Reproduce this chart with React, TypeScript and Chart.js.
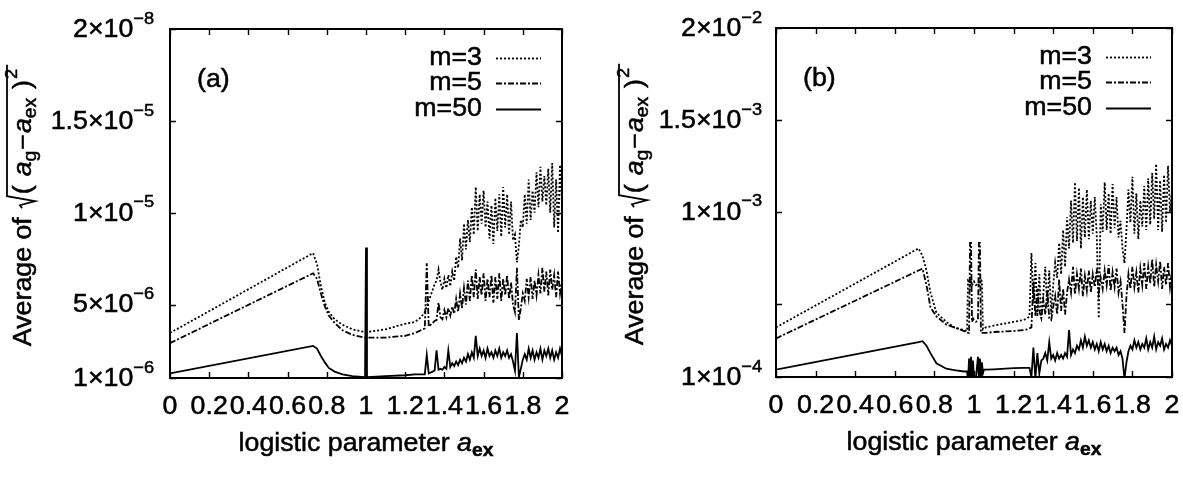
import React, { useEffect, useRef } from "react";
import { Chart, registerables } from "chart.js";
Chart.register(...registerables);

const FONT = '"Liberation Sans", Arial, Helvetica, sans-serif';
const SX = 1.07; // horizontal glyph stretch to mimic the printed Helvetica
const TEXT_STROKE = 0.5;

// ---------- shared axis data ----------
const xTickVals = [0, 0.2, 0.4, 0.6, 0.8, 1, 1.2, 1.4, 1.6, 1.8, 2];
const xTickLabels = ["0", "0.2", "0.4", "0.6", "0.8", "1", "1.2", "1.4", "1.6", "1.8", "2"];
const yTickVals = [1, 5, 10, 15, 20];
const legendLabels = ["m=3", "m=5", "m=50"];

// ---------- panel (a): values in units of 1e-6 ----------
const yTickBaseA = ["1×10", "5×10", "1×10", "1.5×10", "2×10"];
const yTickExpA = ["−6", "−6", "−5", "−5", "−8"];

const xA = [
  0, 0.73, 0.75, 0.77, 0.79, 0.81, 0.84, 0.88, 0.93, 0.995, 1.0, 1.005, 1.1, 1.2, 1.25, 1.28,
  1.30, 1.31, 1.32, 1.33, 1.34, 1.35, 1.36, 1.37, 1.38, 1.39,
  1.40, 1.41, 1.42, 1.43, 1.44, 1.45, 1.46, 1.47, 1.48, 1.49,
  1.50, 1.51, 1.52, 1.53, 1.54, 1.55, 1.56, 1.57, 1.58, 1.59,
  1.60, 1.61, 1.62, 1.63, 1.64, 1.65, 1.66, 1.67, 1.68, 1.69,
  1.70, 1.71, 1.72, 1.73, 1.74, 1.75, 1.76, 1.77, 1.78, 1.79,
  1.80, 1.81, 1.82, 1.83, 1.84, 1.85, 1.86, 1.87, 1.88, 1.89,
  1.90, 1.91, 1.92, 1.93, 1.94, 1.95, 1.96, 1.97, 1.98, 1.99,
  2.00,
];
const m3A = [
  3.45, 7.8, 7.2, 6.0, 5.1, 4.6, 4.2, 3.9, 3.65, 3.5, 3.5, 3.5, 3.65, 3.95, 4.05, 4.3,
  4.6, 4.9, 5.2, 5.5, 5.8, 6.1, 6.3, 6.9, 6.2, 5.8,
  6.4, 5.9, 6.6, 6.0, 6.8, 6.3, 7.6, 7.0, 8.6, 7.4,
  9.4, 8.0, 9.6, 8.4, 10.3, 8.8, 11.4, 9.0, 11.0, 9.4,
  11.2, 9.2, 10.6, 8.6, 10.4, 8.3, 10.8, 9.0, 11.0, 8.7,
  11.4, 9.2, 11.0, 8.8, 10.6, 8.5, 8.8, 7.3, 8.2, 9.6,
  9.2, 11.0, 9.4, 11.8, 9.6, 11.2, 10.0, 12.2, 10.3, 12.5,
  10.6, 12.0, 10.4, 12.4, 10.0, 12.7, 9.2, 11.8, 8.9, 12.6,
  10.4,
];
const m5A = [
  2.9, 6.7, 6.4, 5.6, 4.9, 4.4, 4.0, 3.6, 3.35, 3.2, 3.2, 3.2, 3.2, 3.3, 3.45, 3.6,
  3.7, 7.25, 3.8, 3.9, 4.0, 4.1, 4.15, 5.1, 4.3, 4.2,
  4.7, 4.3, 4.8, 4.4, 4.9, 4.5, 5.3, 4.6, 5.6, 4.8,
  5.9, 5.0, 6.3, 5.2, 6.6, 5.4, 6.9, 5.3, 6.5, 5.5,
  6.7, 5.2, 6.4, 5.4, 6.6, 5.1, 6.5, 5.3, 6.7, 5.2,
  6.4, 5.5, 6.6, 5.3, 6.2, 5.0, 4.6, 7.0, 4.15, 4.8,
  5.6, 5.2, 6.4, 5.4, 6.5, 5.3, 6.3, 5.5, 6.6, 5.6,
  7.0, 5.7, 6.8, 5.5, 6.9, 5.8, 6.6, 5.4, 6.8, 5.6,
  6.3,
];
const m50A = [
  1.25, 2.75, 2.6, 2.2, 1.85, 1.55, 1.35, 1.2, 1.1, 1.05, 8.1, 1.05, 1.1, 1.15, 1.2, 1.2,
  1.2, 2.25, 1.25, 1.3, 1.35, 1.4, 2.5, 1.45, 1.5, 1.45,
  1.6, 1.5, 2.5, 1.6, 1.8, 1.65, 1.9, 1.7, 2.0, 1.8,
  2.1, 1.9, 2.3, 2.0, 2.4, 2.1, 3.3, 2.2, 2.6, 2.2,
  2.5, 2.1, 2.6, 2.2, 2.4, 2.1, 2.5, 2.2, 2.6, 2.1,
  2.4, 2.2, 2.5, 2.1, 2.3, 1.9, 1.4, 3.45, 1.05, 1.5,
  2.0, 2.3, 2.0, 2.6, 2.1, 2.5, 2.0, 2.4, 2.1, 2.6,
  2.0, 2.5, 2.2, 2.6, 2.1, 2.5, 2.0, 2.4, 2.1, 2.6,
  2.2,
];

// ---------- panel (b): values in units of 1e-4 ----------
const yTickBaseB = ["1×10", "", "1×10", "1.5×10", "2×10"];
const yTickExpB = ["−4", "", "−3", "−3", "−2"];

const xB = [
  0, 0.72, 0.74, 0.76, 0.78, 0.81, 0.86, 0.9, 0.95,
  0.965, 0.97, 0.975, 0.98, 0.985, 0.99, 0.995, 1.0, 1.01, 1.02, 1.025, 1.03, 1.035, 1.04, 1.045, 1.05,
  1.06, 1.1, 1.2, 1.25, 1.27,
  1.28, 1.29,
  1.30, 1.31, 1.32, 1.33, 1.34, 1.35, 1.36, 1.37, 1.38, 1.39,
  1.40, 1.41, 1.42, 1.43, 1.44, 1.45, 1.46, 1.47, 1.48, 1.49,
  1.50, 1.51, 1.52, 1.53, 1.54, 1.55, 1.56, 1.57, 1.58, 1.59,
  1.60, 1.61, 1.62, 1.63, 1.64, 1.65, 1.66, 1.67, 1.68, 1.69,
  1.70, 1.71, 1.72, 1.73, 1.74, 1.75, 1.76, 1.77, 1.78, 1.79,
  1.80, 1.81, 1.82, 1.83, 1.84, 1.85, 1.86, 1.87, 1.88, 1.89,
  1.90, 1.91, 1.92, 1.93, 1.94, 1.95, 1.96, 1.97, 1.98, 1.99,
  2.00,
];
const m3B = [
  3.7, 8.0, 7.6, 6.8, 5.6, 4.5, 4.0, 3.7, 3.55,
  3.5, 6.3, 6.3, 6.0, 6.2, 6.0, 6.1, 6.2, 6.0, 6.1, 6.0, 6.3, 6.3, 6.2, 3.6, 3.65,
  3.7, 3.8, 4.0, 4.1, 4.2,
  4.3, 7.75,
  5.0, 7.2, 4.3, 6.6, 4.2, 5.5, 7.0, 4.8, 6.8, 4.4,
  6.0, 7.2, 6.4, 8.3, 6.6, 9.0, 7.0, 9.7, 8.0, 10.6,
  8.3, 11.6, 8.4, 11.3, 8.0, 10.8, 8.6, 11.2, 8.5, 10.6,
  8.8, 10.8, 8.7, 4.2, 10.4, 8.9, 11.6, 9.0, 11.0, 8.8,
  11.5, 9.1, 10.8, 8.6, 9.5, 8.0, 7.2, 9.0, 11.2, 9.4,
  11.9, 8.8, 11.0, 8.5, 10.6, 9.2, 11.4, 9.0, 11.8, 9.3,
  12.1, 9.6, 12.6, 9.0, 11.7, 8.9, 12.0, 9.4, 12.5, 10.0,
  11.2,
];
const m5B = [
  3.1, 6.8, 6.9, 6.0, 4.8, 4.3, 3.85, 3.7, 3.5,
  3.45, 3.4, 3.4, 8.3, 8.3, 4.0, 4.2, 4.1, 4.0, 4.1, 8.3, 8.3, 3.4, 3.4, 3.4, 3.4,
  3.4, 3.45, 3.5, 3.55, 3.6,
  3.65, 3.7,
  6.2, 4.3, 5.8, 4.6, 4.2, 5.2, 4.4, 5.7, 4.2, 4.1,
  4.8, 5.4, 4.4, 6.3, 4.6, 5.8, 4.4, 5.6, 6.3, 5.6,
  7.0, 5.5, 6.6, 5.8, 6.9, 5.4, 6.5, 5.7, 6.8, 5.6,
  6.6, 5.9, 6.9, 5.6, 6.4, 5.8, 6.8, 6.0, 7.1, 5.7,
  6.7, 5.9, 6.9, 5.6, 6.2, 5.0, 3.4, 5.4, 6.6, 5.8,
  7.0, 5.9, 6.7, 5.6, 6.9, 6.0, 7.2, 5.8, 7.0, 6.1,
  7.4, 5.9, 7.1, 6.2, 7.3, 5.8, 7.0, 6.0, 7.2, 5.9,
  6.8,
];
const m50B = [
  1.4, 2.9, 2.95, 2.7, 2.3, 1.75, 1.45, 1.38, 1.3,
  1.3, 0.8, 2.0, 1.0, 2.1, 0.8, 1.9, 0.8, 1.0, 2.1, 0.8, 2.0, 0.9, 1.8, 1.2, 1.4,
  1.4, 1.42, 1.48, 1.5, 1.5,
  1.5, 1.0,
  2.6, 0.9, 2.3, 1.2, 1.9, 2.0, 2.3, 1.9, 2.9, 2.0,
  2.2, 1.9, 2.3, 2.0, 2.2, 2.0, 2.3, 2.1, 3.55, 2.2,
  2.5, 2.3, 2.7, 2.5, 3.0, 2.6, 3.2, 2.7, 3.0, 2.6,
  2.9, 2.5, 2.8, 2.4, 2.9, 2.5, 2.8, 2.4, 2.7, 2.3,
  2.6, 2.4, 2.6, 2.2, 2.4, 2.0, 0.9, 1.8, 2.4, 2.7,
  2.5, 3.0, 2.6, 2.9, 2.5, 2.8, 2.6, 3.1, 2.5, 2.9,
  2.6, 3.2, 2.5, 2.9, 2.7, 3.1, 2.5, 2.8, 2.6, 3.0,
  2.7,
];

// ---------- styles ----------
const DASH_M3 = [2, 2];
const DASH_M5 = [6, 2, 2, 2];
const DASHES = [DASH_M3, DASH_M5, []];
const LINE_W = 1.8;

function pairs(xs: number[], ys: number[]) {
  const n = Math.min(xs.length, ys.length);
  const out: { x: number; y: number }[] = [];
  for (let i = 0; i < n; i++) out.push({ x: xs[i], y: ys[i] });
  return out;
}

// draw text with slight horizontal stretch and thickening
function txt(
  ctx: CanvasRenderingContext2D,
  s: string,
  x: number,
  y: number,
  font: string,
  align: CanvasTextAlign,
  baseline: CanvasTextBaseline = "middle"
) {
  ctx.save();
  ctx.translate(x, y);
  ctx.scale(SX, 1);
  ctx.font = font;
  ctx.textAlign = align;
  ctx.textBaseline = baseline;
  ctx.setLineDash([]);
  ctx.lineWidth = TEXT_STROKE;
  ctx.fillText(s, 0, 0);
  ctx.strokeText(s, 0, 0);
  ctx.restore();
}
function tw(ctx: CanvasRenderingContext2D, s: string, font: string) {
  ctx.font = font;
  return ctx.measureText(s).width * SX;
}

function drawYTitle(ctx: CanvasRenderingContext2D, bx: number, cy: number) {
  const big = 25;
  const fN = `${big}px ${FONT}`;
  const fI = `italic ${big}px ${FONT}`;
  const fS = `18px ${FONT}`;
  const fSup = `17px ${FONT}`;
  type P = { t?: string; f?: string; dy?: number; after?: number; rad?: number };
  const parts: P[] = [
    { t: "Average of", f: fN, dy: 0, after: 8 },
    { rad: 15 },
    { t: "(", f: fN, dy: 0, after: 9 },
    { t: "a", f: fI, dy: 0, after: 0 },
    { t: "g", f: fS, dy: 5, after: 1 },
    { t: "−", f: fN, dy: 0, after: 1 },
    { t: "a", f: fI, dy: 0, after: 0 },
    { t: "ex", f: fS, dy: 5, after: 9 },
    { t: ")", f: fN, dy: 0, after: 1 },
    { t: "2", f: fSup, dy: -14, after: 4 },
  ];
  ctx.save();
  ctx.translate(bx, cy);
  ctx.rotate(-Math.PI / 2);
  const widths = parts.map((p) => (p.rad ? p.rad : tw(ctx, p.t!, p.f!) + (p.after || 0)));
  const total = widths.reduce((a, b) => a + b, 0);
  let x = -total / 2;
  let radStart = 0;
  parts.forEach((p, i) => {
    if (p.rad) radStart = x;
    else txt(ctx, p.t!, x, p.dy || 0, p.f!, "left", "alphabetic");
    x += widths[i];
  });
  ctx.lineWidth = 1.8;
  ctx.setLineDash([]);
  ctx.beginPath();
  ctx.moveTo(radStart + 1, -9);
  ctx.lineTo(radStart + 4, -11);
  ctx.lineTo(radStart + 8, 4);
  ctx.lineTo(radStart + 13, -24);
  ctx.lineTo(x, -24);
  ctx.stroke();
  ctx.restore();
}

function drawXTitle(ctx: CanvasRenderingContext2D, cx: number, base: number) {
  const parts = [
    { t: "logistic parameter ", f: `25px ${FONT}`, dy: 0 },
    { t: "a", f: `italic 25px ${FONT}`, dy: 0 },
    { t: "ex", f: `bold 18px ${FONT}`, dy: 5 },
  ];
  const widths = parts.map((p) => tw(ctx, p.t, p.f));
  let x = cx - widths.reduce((a, b) => a + b, 0) / 2;
  parts.forEach((p, i) => {
    txt(ctx, p.t, x, base + p.dy, p.f, "left", "alphabetic");
    x += widths[i];
  });
}

type PanelCfg = {
  tag: string;
  yBase: string[];
  yExp: string[];
  yTitleX: number;
  labelGap: number;
};

function decorPlugin(cfg: PanelCfg) {
  return {
    id: "decor",
    afterDraw(chart: any) {
      const ctx: CanvasRenderingContext2D = chart.ctx;
      const { left, right, top, bottom } = chart.chartArea;
      const xs = chart.scales.x;
      const ys = chart.scales.y;
      ctx.save();
      ctx.strokeStyle = "#000";
      ctx.fillStyle = "#000";
      ctx.setLineDash([]);
      ctx.lineWidth = 2;
      ctx.strokeRect(left, top, right - left, bottom - top);
      ctx.lineWidth = 1.4;
      ctx.beginPath();
      xTickVals.forEach((v) => {
        const px = Math.round(xs.getPixelForValue(v)) + 0.5;
        ctx.moveTo(px, bottom);
        ctx.lineTo(px, bottom - 6);
        ctx.moveTo(px, top);
        ctx.lineTo(px, top + 6);
      });
      yTickVals.forEach((v) => {
        const py = Math.round(ys.getPixelForValue(v)) + 0.5;
        ctx.moveTo(left, py);
        ctx.lineTo(left + 6, py);
        ctx.moveTo(right, py);
        ctx.lineTo(right - 6, py);
      });
      ctx.stroke();

      const f25 = `25px ${FONT}`;
      const f17 = `17px ${FONT}`;

      // x tick labels
      xTickVals.forEach((v, i) => {
        txt(ctx, xTickLabels[i], xs.getPixelForValue(v), bottom + 29, f25, "center");
      });

      // y tick labels with superscript exponents
      const rightEdge = left - cfg.labelGap;
      yTickVals.forEach((v, i) => {
        const base = cfg.yBase[i];
        if (!base) return;
        const py = ys.getPixelForValue(v);
        const ew = tw(ctx, cfg.yExp[i], f17);
        txt(ctx, cfg.yExp[i], rightEdge - ew, py - 10, f17, "left");
        txt(ctx, base, rightEdge - ew, py + 1, f25, "right");
      });

      // panel tag
      txt(ctx, cfg.tag, left + 27, top + 51, f25, "left");

      // legend
      const rows = [top + 29, top + 54, top + 80];
      legendLabels.forEach((lab, i) => {
        txt(ctx, lab, right - 80, rows[i], f25, "right");
        ctx.lineWidth = LINE_W;
        ctx.setLineDash(DASHES[i]);
        ctx.beginPath();
        ctx.moveTo(right - 66, rows[i] + 0.5);
        ctx.lineTo(right - 21, rows[i] + 0.5);
        ctx.stroke();
      });
      ctx.setLineDash([]);

      drawXTitle(ctx, (left + right) / 2, bottom + 73);
      drawYTitle(ctx, cfg.yTitleX, (top + bottom) / 2 + 2);
      ctx.restore();
    },
  };
}

function makeChart(
  canvas: HTMLCanvasElement,
  xs: number[],
  series: number[][],
  pad: { left: number; right: number; top: number; bottom: number },
  cfg: PanelCfg
) {
  return new Chart(canvas, {
    type: "line",
    data: {
      datasets: series.map((ys, i) => ({
        label: legendLabels[i],
        data: pairs(xs, ys),
        borderColor: "#000",
        borderWidth: LINE_W,
        borderDash: DASHES[i],
        pointRadius: 0,
        tension: 0,
        fill: false,
      })),
    },
    options: {
      animation: false,
      responsive: false,
      devicePixelRatio: 1,
      layout: { padding: pad },
      plugins: { legend: { display: false }, tooltip: { enabled: false } },
      scales: {
        x: { type: "linear", min: 0, max: 2, display: false },
        y: { type: "linear", min: 1, max: 20, display: false },
      },
    },
    plugins: [decorPlugin(cfg)],
  } as any);
}

export default function App() {
  const refA = useRef<HTMLCanvasElement>(null);
  const refB = useRef<HTMLCanvasElement>(null);
  useEffect(() => {
    const a = makeChart(
      refA.current!,
      xA,
      [m3A, m5A, m50A],
      { left: 170, right: 28, top: 29, bottom: 102 },
      { tag: "(a)", yBase: yTickBaseA, yExp: yTickExpA, yTitleX: 31, labelGap: 16 }
    );
    const b = makeChart(
      refB.current!,
      xB,
      [m3B, m5B, m50B],
      { left: 186, right: 11, top: 28, bottom: 103 },
      { tag: "(b)", yBase: yTickBaseB, yExp: yTickExpB, yTitleX: 53, labelGap: 14 }
    );
    return () => {
      a.destroy();
      b.destroy();
    };
  }, []);
  return (
    <div style={{ position: "absolute", left: 0, top: 0, width: 1183, height: 480, background: "#fff" }}>
      <canvas ref={refA} width={590} height={480} style={{ position: "absolute", left: 0, top: 0 }} />
      <canvas ref={refB} width={593} height={480} style={{ position: "absolute", left: 590, top: 0 }} />
    </div>
  );
}
